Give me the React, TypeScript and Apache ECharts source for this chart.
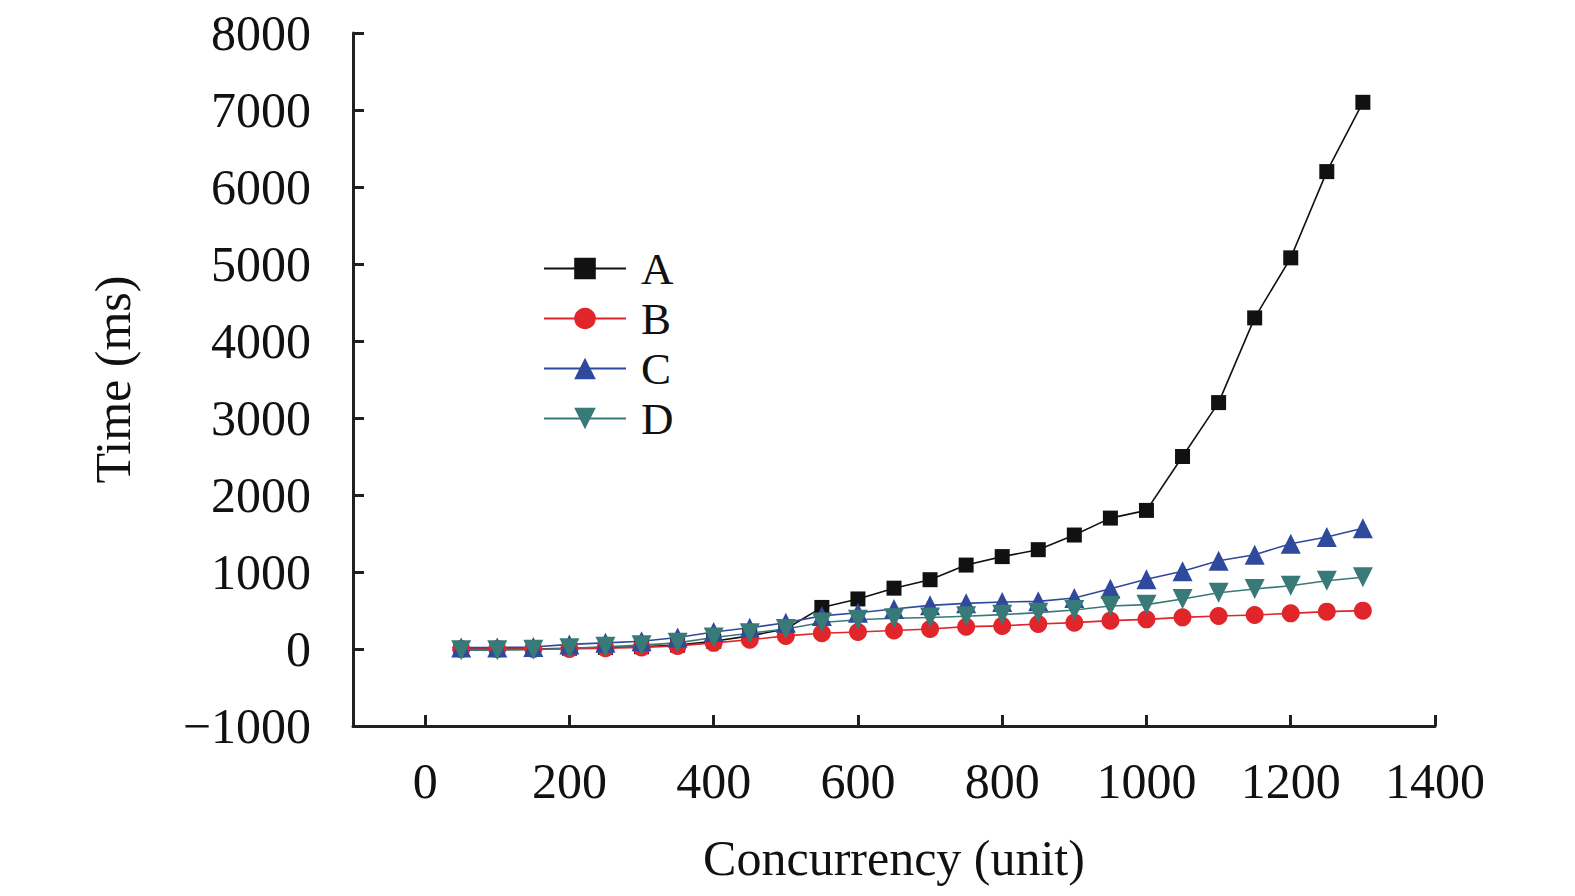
import React, { useEffect, useRef } from "react";
import * as echarts from "echarts";

const xValues = [50, 100, 150, 200, 250, 300, 350, 400, 450, 500, 550, 600, 650, 700, 750, 800, 850, 900, 950, 1000, 1050, 1100, 1150, 1200, 1250, 1300];
const seriesA = [0, 0, 0, 10, 20, 30, 50, 100, 170, 260, 540, 650, 790, 900, 1090, 1200, 1290, 1480, 1700, 1800, 2500, 3200, 4300, 5080, 6200, 7100];
const seriesB = [0, 0, 0, 0, 10, 20, 40, 80, 120, 170, 205, 220, 240, 260, 290, 300, 325, 342, 368, 385, 411, 429, 442, 463, 485, 498];
const seriesC = [20, 20, 25, 60, 80, 100, 150, 220, 275, 340, 430, 470, 520, 567, 593, 610, 619, 662, 783, 905, 1009, 1147, 1225, 1368, 1455, 1567];
const seriesD = [-15, -15, -10, 10, 30, 50, 80, 150, 205, 260, 345, 380, 400, 410, 425, 446, 472, 506, 558, 576, 649, 731, 779, 822, 887, 931];
const xTicks = [0, 200, 400, 600, 800, 1000, 1200, 1400];
const seriesNames = ["A", "B", "C", "D"];

const FONT = "Liberation Serif";
const AXIS_COLOR = "#231f20";

function pairs(ys: number[]) {
  return xValues.map((x, i) => [x, ys[i]]);
}

export default function App() {
  const ref = useRef<HTMLDivElement>(null);
  useEffect(() => {
    if (!ref.current) return;
    const chart = echarts.init(ref.current, null, { renderer: "svg" });
    const mk = (name: string, data: number[], color: string, symbol: string, size: number) => ({
      name,
      type: "line",
      data: pairs(data),
      symbol,
      symbolSize: size,
      showSymbol: true,
      lineStyle: { color, width: 1.6 },
      itemStyle: { color, borderWidth: 0 },
      emphasis: { disabled: true },
    });
    chart.setOption({
      animation: false,
      backgroundColor: "#ffffff",
      textStyle: { fontFamily: FONT },
      grid: { left: 353, top: 33, right: 140, bottom: 170, containLabel: false },
      legend: {
        left: 538,
        top: 241,
        orient: "vertical",
        itemWidth: 82,
        itemHeight: 27,
        itemGap: 5,
        data: seriesNames,
        textStyle: { fontFamily: FONT, fontSize: 45, color: "#111", lineHeight: 40, padding: [0, 0, 0, 10] },
      },
      xAxis: {
        type: "value",
        min: -100,
        max: 1400,
        name: "Concurrency (unit)",
        nameLocation: "middle",
        nameGap: 107,
        nameTextStyle: { fontFamily: FONT, fontSize: 50, color: "#111" },
        axisLine: { onZero: false, lineStyle: { color: AXIS_COLOR, width: 3 } },
        axisTick: { inside: true, length: 11, customValues: xTicks, lineStyle: { color: AXIS_COLOR, width: 3 } },
        axisLabel: {
          customValues: xTicks,
          fontFamily: FONT,
          fontSize: 50,
          color: "#111",
          margin: 30,
          formatter: (v: number) => String(v),
        },
        splitLine: { show: false },
      },
      yAxis: {
        type: "value",
        min: -1000,
        max: 8000,
        interval: 1000,
        name: "Time (ms)",
        nameLocation: "middle",
        nameGap: 215,
        nameTextStyle: { fontFamily: FONT, fontSize: 50, color: "#111" },
        axisLine: { show: true, onZero: false, lineStyle: { color: AXIS_COLOR, width: 3 } },
        axisTick: { show: true, inside: true, length: 11, lineStyle: { color: AXIS_COLOR, width: 3 } },
        axisLabel: {
          fontFamily: FONT,
          fontSize: 50,
          color: "#111",
          margin: 42,
          formatter: (v: number) => (v < 0 ? "\u2212" + Math.abs(v) : String(v)),
        },
        splitLine: { show: false },
      },
      series: [
        mk("A", seriesA, "#111111", "rect", 15),
        mk("B", seriesB, "#e0262a", "circle", 18),
        mk("C", seriesC, "#2f4a9c", "triangle", 20),
        mk("D", seriesD, "#387a77", "path://M0,0 L10,0 L5,9 Z", 20),
      ],
    });
    return () => chart.dispose();
  }, []);
  return <div ref={ref} style={{ position: "absolute", left: 0, top: 0, width: 1575, height: 896 }} />;
}
